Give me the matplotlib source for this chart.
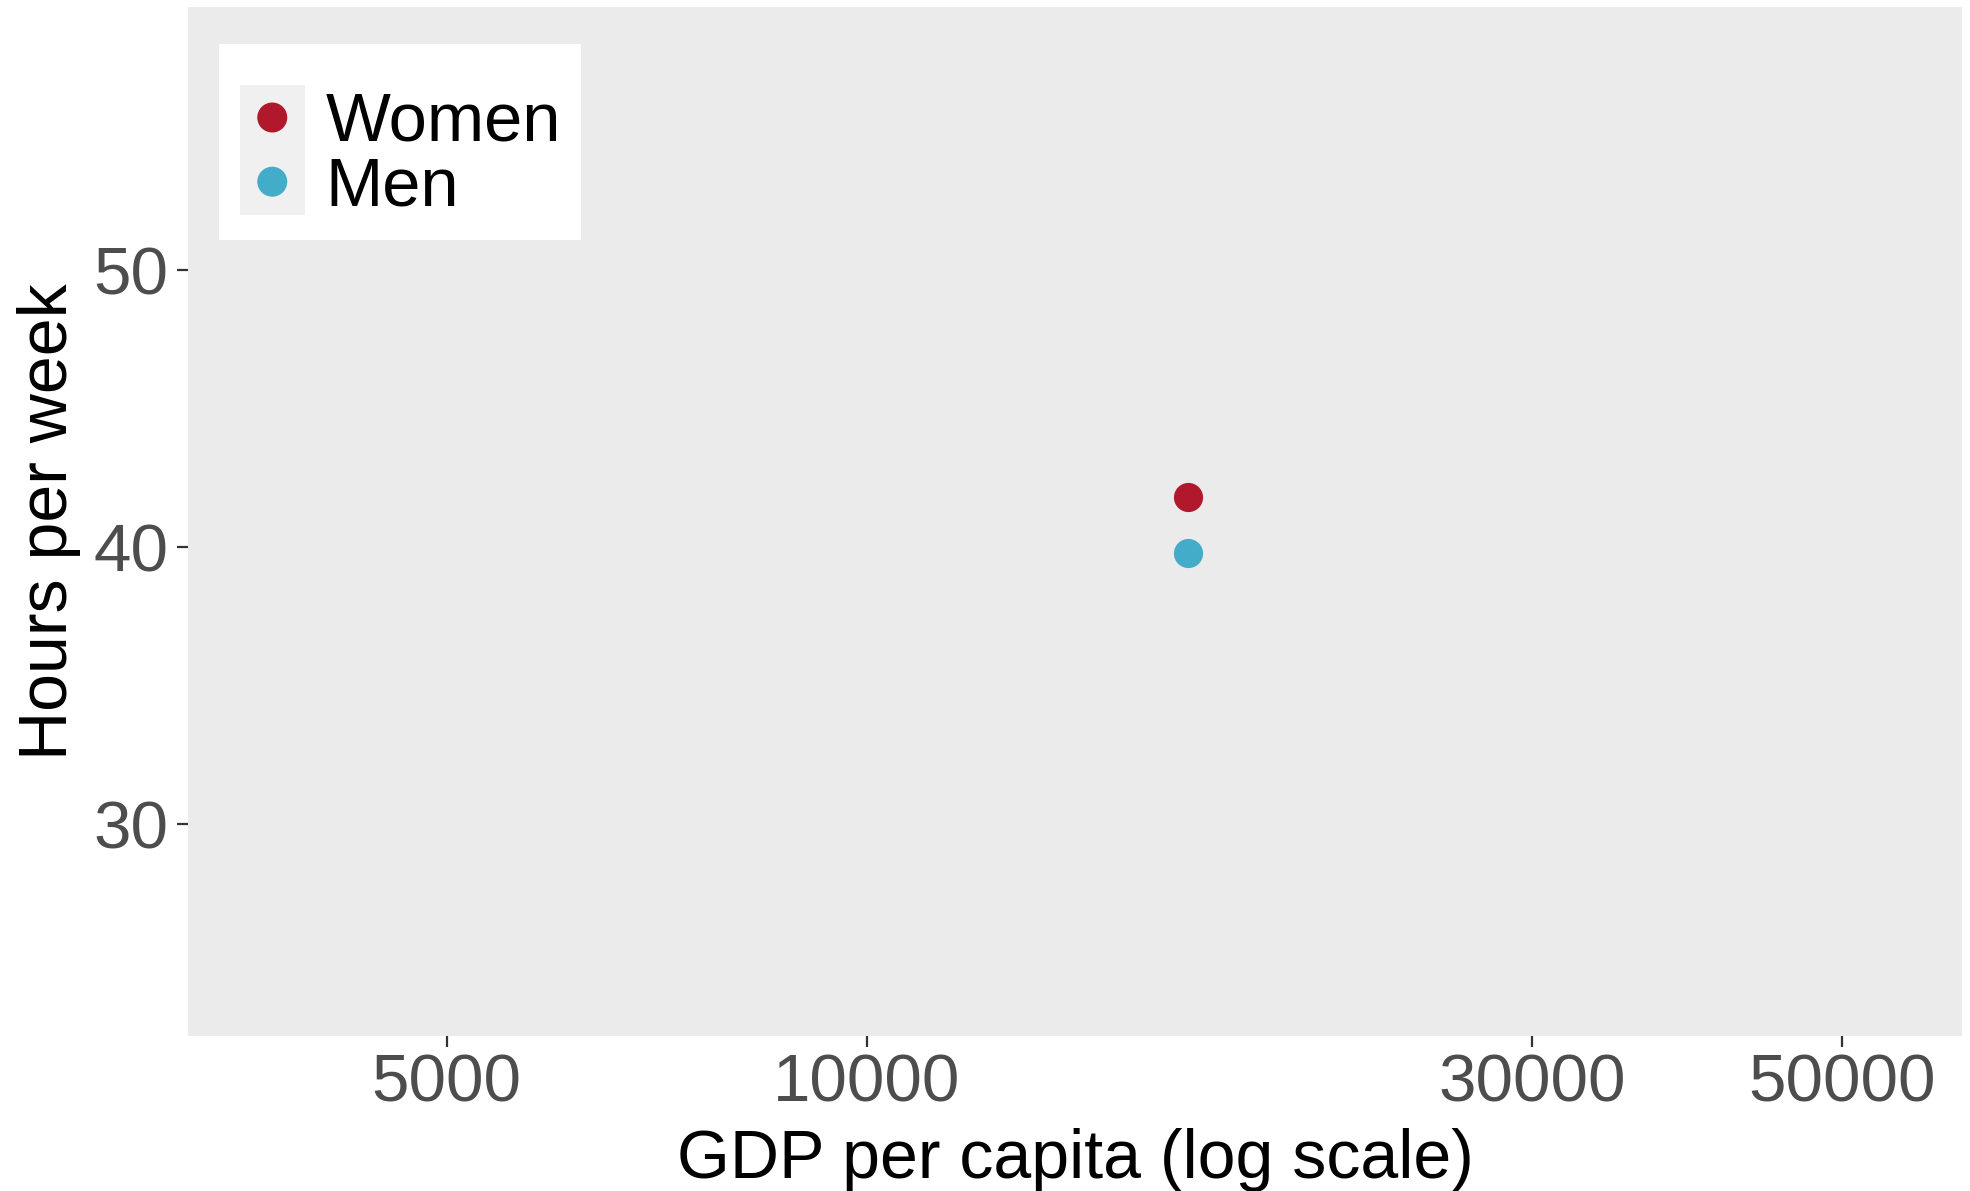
import matplotlib
matplotlib.use("Agg")
import matplotlib.pyplot as plt
from matplotlib.patches import Rectangle, Circle
from matplotlib.legend_handler import HandlerTuple, HandlerPatch
from matplotlib.ticker import FixedLocator, NullLocator, FixedFormatter

plt.rcParams['font.family'] = ['Liberation Sans', 'DejaVu Sans']

# data
groups = ['Women', 'Men']
gdp = [17000, 17000]
hours = [41.8, 39.8]
colors = ['#B2182B', '#43ADC9']

x_ticks = [5000, 10000, 30000, 50000]
x_tick_labels = ['5000', '10000', '30000', '50000']
y_ticks = [30, 40, 50]
x_lim = (3263, 60980)
y_lim = (22.36, 59.5)

fig = plt.figure(figsize=(19.70, 11.91), dpi=100)
ax = fig.add_axes([0.0954, 0.1301, 0.9006, 0.8640])
ax.set_facecolor('#EBEBEB')
for sp in ax.spines.values():
    sp.set_visible(False)

# points
for g, x, y, c in zip(groups, gdp, hours, colors):
    ax.scatter([x], [y], s=441, color=c, linewidths=0, label=g, zorder=3)

ax.set_xscale('log')
ax.set_xlim(*x_lim)
ax.set_ylim(*y_lim)
ax.xaxis.set_major_locator(FixedLocator(x_ticks))
ax.xaxis.set_major_formatter(FixedFormatter(x_tick_labels))
ax.xaxis.set_minor_locator(NullLocator())
ax.set_yticks(y_ticks)

ax.tick_params(axis='both', length=7.9, width=1.6, color='#333333',
               labelsize=48.5, labelcolor='#4D4D4D')
ax.tick_params(axis='x', pad=5)
ax.tick_params(axis='y', pad=6)

ax.set_xlabel('GDP per capita (log scale)', fontsize=49, color='black', labelpad=9)
ax.set_ylabel('Hours per week', fontsize=49, color='black', labelpad=9)


def centred_dot(legend, orig_handle, xdescent, ydescent, width, height, fontsize):
    # keep the legend dot in the middle of its grey key
    return Circle((width / 2 - xdescent, height / 2 - ydescent), 10.8)


# legend with the grey key background like ggplot
handles = []
for c in colors:
    bg = Rectangle((0, 0), 1, 1, facecolor='#F0F0F0', edgecolor='none')
    dot = Circle((0, 0), 1, facecolor=c, edgecolor='none')
    handles.append((bg, dot))

leg = ax.legend(handles, groups,
                handler_map={tuple: HandlerTuple(ndivide=1, pad=0),
                             Circle: HandlerPatch(patch_func=centred_dot)},
                loc='upper left', bbox_to_anchor=(0.0175, 0.964), borderaxespad=0,
                fontsize=49.5, title=' ', title_fontsize=20,
                frameon=True, fancybox=False, facecolor='white', edgecolor='none',
                framealpha=1, borderpad=0.3, handlelength=0.95, handleheight=1.10,
                handletextpad=0.295, labelspacing=-0.09)

fig.savefig('out.png', dpi=100)
